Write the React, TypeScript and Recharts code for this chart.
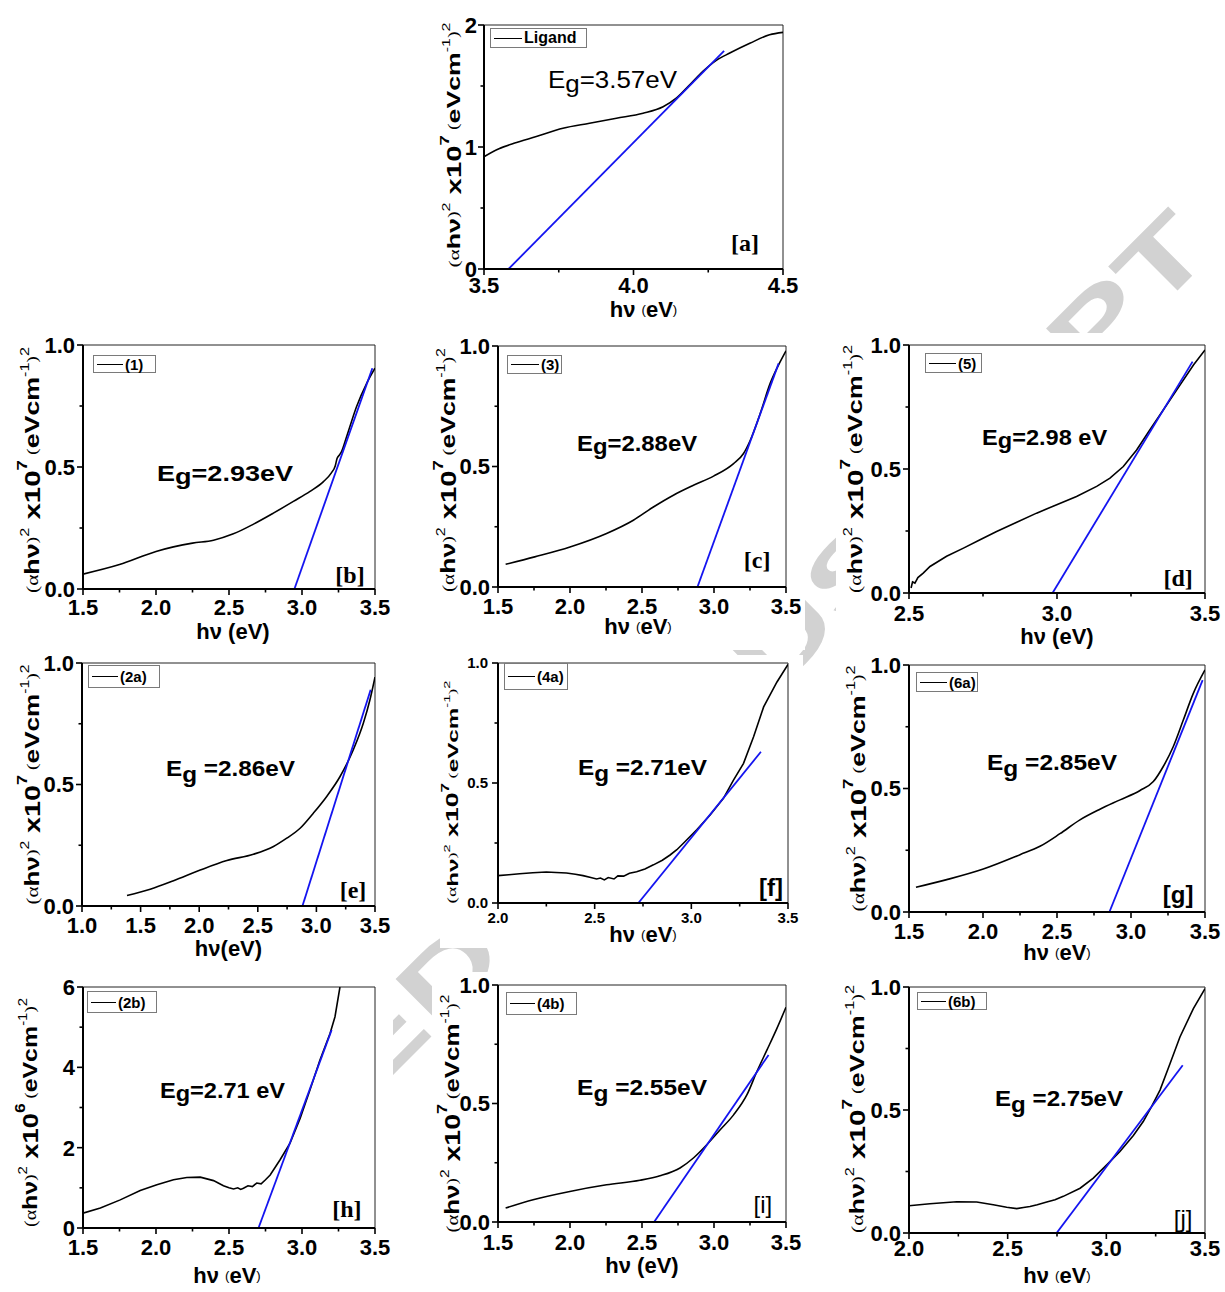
import React from 'react';
import { LineChart, Line, XAxis, YAxis, ReferenceLine, ReferenceDot, Legend } from 'recharts';

type P = [number, number];

// ---------- data ----------
const curveA: P[] = [[3.5,0.92],[3.55,0.985],[3.6,1.03],[3.675,1.086],[3.764,1.154],[3.853,1.195],[3.943,1.236],[4.032,1.277],[4.099,1.33],[4.143,1.4],[4.188,1.51],[4.232,1.62],[4.277,1.71],[4.322,1.77],[4.389,1.85],[4.455,1.92],[4.5,1.94]];
const tangentA: P[] = [[3.582,0],[4.303,1.787]];

const curveB: P[] = [[1.5,0.061],[1.75,0.1],[2.0,0.154],[2.25,0.188],[2.394,0.2],[2.53,0.226],[2.668,0.266],[2.804,0.311],[2.941,0.359],[3.055,0.4],[3.147,0.44],[3.2,0.475],[3.228,0.505],[3.24,0.535],[3.255,0.548],[3.27,0.562],[3.306,0.625],[3.374,0.748],[3.443,0.843],[3.5,0.905]];
const tangentB: P[] = [[2.948,0],[3.482,0.905]];

const curveC: P[] = [[1.553,0.094],[1.755,0.125],[2.0,0.166],[2.254,0.222],[2.44,0.277],[2.579,0.332],[2.718,0.381],[2.857,0.422],[2.997,0.46],[3.136,0.512],[3.205,0.554],[3.252,0.609],[3.321,0.72],[3.39,0.845],[3.46,0.935],[3.5,0.98]];
const tangentC: P[] = [[2.885,0],[3.449,0.928]];

const curveD: P[] = [[2.507,0.02],[2.512,0.045],[2.52,0.04],[2.53,0.062],[2.548,0.08],[2.571,0.107],[2.627,0.148],[2.684,0.181],[2.74,0.215],[2.796,0.248],[2.864,0.285],[2.931,0.322],[2.999,0.356],[3.066,0.389],[3.134,0.43],[3.179,0.463],[3.224,0.51],[3.269,0.577],[3.314,0.658],[3.359,0.738],[3.416,0.839],[3.461,0.919],[3.5,0.98]];
const tangentD: P[] = [[2.985,0],[3.458,0.933]];

const curveE: P[] = [[1.384,0.043],[1.582,0.069],[1.781,0.104],[2.009,0.148],[2.236,0.187],[2.463,0.213],[2.634,0.245],[2.747,0.279],[2.861,0.32],[2.974,0.382],[3.088,0.451],[3.202,0.533],[3.315,0.643],[3.401,0.753],[3.457,0.849],[3.5,0.942]];
const tangentE: P[] = [[2.881,0],[3.463,0.89]];

const curveF: P[] = [[2.0,0.114],[2.056,0.118],[2.112,0.122],[2.18,0.126],[2.25,0.129],[2.3,0.127],[2.354,0.125],[2.4,0.12],[2.44,0.114],[2.48,0.106],[2.51,0.1],[2.53,0.104],[2.55,0.096],[2.57,0.106],[2.6,0.1],[2.62,0.113],[2.65,0.112],[2.68,0.124],[2.717,0.13],[2.76,0.142],[2.804,0.159],[2.85,0.178],[2.89,0.2],[2.925,0.222],[2.959,0.249],[3.028,0.305],[3.097,0.367],[3.166,0.436],[3.218,0.512],[3.27,0.582],[3.322,0.693],[3.374,0.817],[3.443,0.921],[3.5,0.994]];
const tangentF: P[] = [[2.726,0],[3.36,0.63]];

const curveG: P[] = [[1.547,0.1],[1.755,0.131],[2.002,0.174],[2.25,0.232],[2.385,0.266],[2.52,0.317],[2.655,0.373],[2.79,0.416],[2.926,0.454],[3.061,0.492],[3.151,0.528],[3.218,0.589],[3.286,0.67],[3.354,0.778],[3.421,0.885],[3.5,0.98]];
const tangentG: P[] = [[2.854,0],[3.484,0.939]];

const curveH: P[] = [[1.5,0.37],[1.619,0.5],[1.755,0.7],[1.892,0.935],[2.006,1.076],[2.12,1.2],[2.211,1.258],[2.303,1.267],[2.394,1.18],[2.462,1.05],[2.5,1.0],[2.531,0.97],[2.56,1.0],[2.58,0.96],[2.599,0.99],[2.63,1.05],[2.66,1.03],[2.69,1.12],[2.72,1.1],[2.75,1.2],[2.782,1.32],[2.85,1.7],[2.918,2.11],[2.987,2.73],[3.055,3.44],[3.123,4.18],[3.192,4.84],[3.226,5.26],[3.26,6.0]];
const tangentH: P[] = [[2.702,0],[3.203,4.93]];

const curveI: P[] = [[1.553,0.059],[1.744,0.094],[1.999,0.129],[2.254,0.157],[2.486,0.176],[2.625,0.195],[2.764,0.228],[2.857,0.27],[2.95,0.326],[3.043,0.389],[3.136,0.452],[3.229,0.537],[3.298,0.635],[3.368,0.726],[3.437,0.817],[3.5,0.906]];
const tangentI: P[] = [[2.584,0],[3.379,0.705]];

const curveJ: P[] = [[2.0,0.111],[2.106,0.119],[2.242,0.127],[2.343,0.126],[2.427,0.115],[2.495,0.105],[2.546,0.099],[2.58,0.104],[2.613,0.108],[2.65,0.115],[2.698,0.126],[2.74,0.135],[2.782,0.149],[2.867,0.182],[2.934,0.223],[3.002,0.277],[3.069,0.331],[3.137,0.396],[3.187,0.453],[3.229,0.514],[3.272,0.581],[3.323,0.689],[3.373,0.797],[3.441,0.912],[3.5,0.993]];
const tangentJ: P[] = [[2.748,0],[3.387,0.682]];

const legendNames = ['Ligand', '(1)', '(3)', '(5)', '(2a)', '(4a)', '(6a)', '(2b)', '(4b)', '(6b)'];
const gapTexts = ['=3.57eV', '=2.93eV', '=2.88eV', '=2.98 eV', ' =2.86eV', ' =2.71eV', ' =2.85eV', '=2.71 eV', ' =2.55eV', ' =2.75eV'];
const tagTexts = ['[a]', '[b]', '[c]', '[d]', '[e]', '[f]', '[g]', '[h]', '[i]', '[j]'];

const ticksX15: number[] = [1.5, 2.0, 2.5, 3.0, 3.5];
const minorX15: number[] = [1.75, 2.25, 2.75, 3.25];
const ticksX10: number[] = [1.0, 1.5, 2.0, 2.5, 3.0, 3.5];
const minorX10: number[] = [1.25, 1.75, 2.25, 2.75, 3.25];
const ticksX20: number[] = [2.0, 2.5, 3.0, 3.5];
const minorX20: number[] = [2.25, 2.75, 3.25];
const ticksX25: number[] = [2.5, 3.0, 3.5];
const minorX25: number[] = [2.75, 3.25];
const ticksXa: number[] = [3.5, 4.0, 4.5];
const minorXa: number[] = [3.75, 4.25];
const ticksY1: number[] = [0, 0.5, 1.0];
const minorY1: number[] = [0.25, 0.75];
const ticksYa: number[] = [0, 1, 2];
const minorYa: number[] = [0.5, 1.5];
const ticksYh: number[] = [0, 2, 4, 6];
const minorYh: number[] = [1, 3, 5];

// ---------- layout / style ----------
const SANS = "Arial, 'Liberation Sans', sans-serif";
const SERIF = "'Times New Roman', 'Liberation Serif', serif";
const YW = 10;
const XH = 10;

interface Panel {
  curve: P[]; tangent: P[]; idx: number;
  egPos: P; egLen: number; egBold: boolean; egSize: number; egSub: number;
  tagPos: P; tagFont: string; tagBold: boolean;
  xDomain: P; yDomain: P;
  xMajor: number[]; xMinor: number[]; yMajor: number[]; yMinor: number[]; yDec: number;
  box: [number, number, number, number];
  plot: [number, number, number, number];
  tickFont: number; xTickDy: number; yTickGap: number;
  yt: { dx: number; dy: number; len: number; size: number; exp: string };
  xt: { dx: number; dy: number; small: boolean; nospace?: boolean; size: number };
  lg: [number, number, number, number]; lgLine: number; lgFont: number;
  smooth: boolean;
}

const panels: Panel[] = [
  { curve: curveA, tangent: tangentA, idx: 0, egPos: [3.714, 1.549], egLen: 129, egBold: false, egSize: 23, egSub: 4,
    tagPos: [4.373, 0.213], tagFont: SERIF, tagBold: true, xDomain: [3.5, 4.5], yDomain: [0, 2],
    xMajor: ticksXa, xMinor: minorXa, yMajor: ticksYa, yMinor: minorYa, yDec: 0,
    box: [432, 5, 380, 323], plot: [484, 25, 783, 269], tickFont: 22, xTickDy: 24, yTickGap: 7,
    yt: { dx: -31, dy: -2, len: 245, size: 19, exp: '7' }, xt: { dx: 10, dy: 40, small: true, size: 22 },
    lg: [490, 28, 97, 20], lgLine: 28, lgFont: 16, smooth: true },
  { curve: curveB, tangent: tangentB, idx: 1, egPos: [2.007, 0.475], egLen: 136, egBold: true, egSize: 22, egSub: 3,
    tagPos: [3.329, 0.057], tagFont: SERIF, tagBold: true, xDomain: [1.5, 3.5], yDomain: [0, 1],
    xMajor: ticksX15, xMinor: minorX15, yMajor: ticksY1, yMinor: minorY1, yDec: 1,
    box: [0, 333, 410, 317], plot: [83, 345, 375, 589], tickFont: 22, xTickDy: 26, yTickGap: 8,
    yt: { dx: -51, dy: 3, len: 246, size: 20, exp: '7' }, xt: { dx: 4, dy: 42, small: false, size: 22 },
    lg: [93, 355, 63, 18], lgLine: 26, lgFont: 15, smooth: true },
  { curve: curveC, tangent: tangentC, idx: 2, egPos: [2.049, 0.598], egLen: 120, egBold: true, egSize: 22, egSub: 3,
    tagPos: [3.299, 0.112], tagFont: SERIF, tagBold: true, xDomain: [1.5, 3.5], yDomain: [0, 1],
    xMajor: ticksX15, xMinor: minorX15, yMajor: ticksY1, yMinor: minorY1, yDec: 1,
    box: [425, 333, 380, 317], plot: [498, 346, 786, 587], tickFont: 22, xTickDy: 27, yTickGap: 8,
    yt: { dx: -50, dy: 3.5, len: 244, size: 20, exp: '7' }, xt: { dx: -4, dy: 39, small: true, size: 22 },
    lg: [507, 355, 55, 19], lgLine: 28, lgFont: 15, smooth: true },
  { curve: curveD, tangent: tangentD, idx: 3, egPos: [2.747, 0.629], egLen: 125, egBold: true, egSize: 22, egSub: 3,
    tagPos: [3.409, 0.06], tagFont: SERIF, tagBold: true, xDomain: [2.5, 3.5], yDomain: [0, 1],
    xMajor: ticksX25, xMinor: minorX25, yMajor: ticksY1, yMinor: minorY1, yDec: 1,
    box: [836, 333, 389, 322], plot: [909, 345, 1205, 593], tickFont: 22, xTickDy: 28, yTickGap: 8,
    yt: { dx: -54, dy: 0, len: 248, size: 20, exp: '7' }, xt: { dx: 0, dy: 43, small: false, size: 22 },
    lg: [925, 353, 57, 20], lgLine: 27, lgFont: 15, smooth: false },
  { curve: curveE, tangent: tangentE, idx: 4, egPos: [1.717, 0.568], egLen: 129, egBold: true, egSize: 22, egSub: 6,
    tagPos: [3.312, 0.066], tagFont: SERIF, tagBold: true, xDomain: [1.0, 3.5], yDomain: [0, 1],
    xMajor: ticksX10, xMinor: minorX10, yMajor: ticksY1, yMinor: minorY1, yDec: 1,
    box: [0, 652, 405, 316], plot: [82, 663, 375, 906], tickFont: 22, xTickDy: 27, yTickGap: 8,
    yt: { dx: -50, dy: 0, len: 240, size: 20, exp: '7' }, xt: { dx: 0, dy: 42, small: false, nospace: true, size: 22 },
    lg: [88, 665, 72, 23], lgLine: 26, lgFont: 15, smooth: true },
  { curve: curveF, tangent: tangentF, idx: 5, egPos: [2.414, 0.567], egLen: 129, egBold: true, egSize: 22, egSub: 6,
    tagPos: [3.412, 0.063], tagFont: SANS, tagBold: true, xDomain: [2.0, 3.5], yDomain: [0, 1],
    xMajor: ticksX20, xMinor: minorX20, yMajor: ticksY1, yMinor: minorY1, yDec: 1,
    box: [440, 655, 363, 293], plot: [498, 663, 788, 903], tickFont: 15, xTickDy: 20, yTickGap: 10,
    yt: { dx: -46, dy: 9, len: 223, size: 15, exp: '7' }, xt: { dx: 0, dy: 31, small: true, size: 22 },
    lg: [504, 663, 64, 27], lgLine: 27, lgFont: 15, smooth: false },
  { curve: curveG, tangent: tangentG, idx: 6, egPos: [2.027, 0.607], egLen: 130, egBold: true, egSize: 22, egSub: 6,
    tagPos: [3.318, 0.069], tagFont: SANS, tagBold: true, xDomain: [1.5, 3.5], yDomain: [0, 1],
    xMajor: ticksX15, xMinor: minorX15, yMajor: ticksY1, yMinor: minorY1, yDec: 1,
    box: [836, 650, 389, 318], plot: [909, 665, 1205, 912], tickFont: 22, xTickDy: 27, yTickGap: 8,
    yt: { dx: -51, dy: 0, len: 246, size: 20, exp: '7' }, xt: { dx: 0, dy: 40, small: true, size: 22 },
    lg: [916, 672, 62, 20], lgLine: 27, lgFont: 15, smooth: true },
  { curve: curveH, tangent: tangentH, idx: 7, egPos: [2.027, 3.436], egLen: 125, egBold: true, egSize: 22, egSub: 3,
    tagPos: [3.308, 0.473], tagFont: SERIF, tagBold: true, xDomain: [1.5, 3.5], yDomain: [0, 6],
    xMajor: ticksX15, xMinor: minorX15, yMajor: ticksYh, yMinor: minorYh, yDec: 0,
    box: [0, 972, 393, 320], plot: [83, 987, 375, 1228], tickFont: 22, xTickDy: 27, yTickGap: 8,
    yt: { dx: -53, dy: 5, len: 229, size: 20, exp: '6' }, xt: { dx: -2, dy: 47, small: true, size: 22 },
    lg: [87, 991, 70, 22], lgLine: 25, lgFont: 15, smooth: false },
  { curve: curveI, tangent: tangentI, idx: 8, egPos: [2.049, 0.57], egLen: 130, egBold: true, egSize: 22, egSub: 6,
    tagPos: [3.34, 0.072], tagFont: SANS, tagBold: false, xDomain: [1.5, 3.5], yDomain: [0, 1],
    xMajor: ticksX15, xMinor: minorX15, yMajor: ticksY1, yMinor: minorY1, yDec: 1,
    box: [432, 972, 385, 320], plot: [498, 985, 786, 1222], tickFont: 22, xTickDy: 28, yTickGap: 8,
    yt: { dx: -46, dy: 10, len: 238, size: 20, exp: '7' }, xt: { dx: 0, dy: 43, small: false, size: 22 },
    lg: [506, 992, 71, 23], lgLine: 25, lgFont: 15, smooth: true },
  { curve: curveJ, tangent: tangentJ, idx: 9, egPos: [2.436, 0.549], egLen: 128, egBold: true, egSize: 22, egSub: 6,
    tagPos: [3.389, 0.057], tagFont: SANS, tagBold: false, xDomain: [2.0, 3.5], yDomain: [0, 1],
    xMajor: ticksX20, xMinor: minorX20, yMajor: ticksY1, yMinor: minorY1, yDec: 1,
    box: [836, 972, 389, 320], plot: [909, 987, 1205, 1233], tickFont: 22, xTickDy: 23, yTickGap: 8,
    yt: { dx: -52, dy: -1, len: 248, size: 20, exp: '7' }, xt: { dx: 0, dy: 42, small: true, size: 22 },
    lg: [917, 992, 70, 18], lgLine: 25, lgFont: 15, smooth: false },
];

const isIn = (arr: number[], v: number) => arr.some((m) => Math.abs(m - v) < 1e-6);

function makeXTick(c: Panel) {
  return (props: any) => {
    const { x, y, payload } = props;
    const v = payload.value as number;
    const major = isIn(c.xMajor, v);
    return (
      <g>
        <line x1={x} x2={x} y1={y} y2={y + (major ? 6 : 3.5)} stroke="#000" strokeWidth={1.6} />
        {major && (
          <text x={x} y={y + c.xTickDy} textAnchor="middle" fontFamily={SANS} fontWeight="bold" fontSize={c.tickFont} fill="#000">
            {v.toFixed(1)}
          </text>
        )}
      </g>
    );
  };
}

function makeYTick(c: Panel) {
  return (props: any) => {
    const { x, y, payload } = props;
    const v = payload.value as number;
    const major = isIn(c.yMajor, v);
    return (
      <g>
        <line x1={x} x2={x - (major ? 6 : 3.5)} y1={y} y2={y} stroke="#000" strokeWidth={1.6} />
        {major && (
          <text x={x - c.yTickGap} y={y + c.tickFont * 0.36} textAnchor="end" fontFamily={SANS} fontWeight="bold" fontSize={c.tickFont} fill="#000">
            {v.toFixed(c.yDec)}
          </text>
        )}
      </g>
    );
  };
}

function makeYTitle(c: Panel) {
  return (props: any) => {
    const vb = props.viewBox || {};
    const plotLeft = (vb.x ?? 0) + (vb.width ?? 0);
    const cx = plotLeft + c.yt.dx;
    const cy = (vb.y ?? 0) + (vb.height ?? 0) / 2 + c.yt.dy;
    const s = c.yt.size;
    return (
      <text transform={`translate(${cx},${cy}) rotate(-90)`} textAnchor="middle" dominantBaseline="central"
        textLength={c.yt.len} lengthAdjust="spacingAndGlyphs" fontFamily={SANS} fontWeight="bold" fontSize={s} fill="#000">
        <tspan fontFamily={SERIF} fontWeight="normal" fontSize={s * 0.8}>(α</tspan>
        <tspan>hν</tspan>
        <tspan fontFamily={SERIF} fontWeight="normal" fontSize={s * 0.75}>)</tspan>
        <tspan fontSize={s * 0.6} fontWeight="normal" dy={-s * 0.35}>2</tspan>
        <tspan fontSize={s * 1.1} dy={s * 0.35}> x10</tspan>
        <tspan fontSize={s * 0.7} dy={-s * 0.5}>{c.yt.exp}</tspan>
        <tspan fontFamily={SERIF} fontWeight="normal" fontSize={s * 0.75} dy={s * 0.5}> (</tspan>
        <tspan>eVcm</tspan>
        <tspan fontSize={s * 0.6} fontWeight="normal" dy={-s * 0.35}>-1</tspan>
        <tspan fontFamily={SERIF} fontWeight="normal" fontSize={s * 0.75} dy={s * 0.35}>)</tspan>
        <tspan fontSize={s * 0.6} fontWeight="normal" dy={-s * 0.35}>2</tspan>
      </text>
    );
  };
}

function makeXTitle(c: Panel) {
  return (props: any) => {
    const vb = props.viewBox || {};
    const cx = (vb.x ?? 0) + (vb.width ?? 0) / 2 + c.xt.dx;
    const cy = (vb.y ?? 0) + c.xt.dy;
    const s = c.xt.size;
    const ps = c.xt.small ? s * 0.6 : s;
    return (
      <text x={cx} y={cy} textAnchor="middle" dominantBaseline="central" fontFamily={SANS} fontWeight="bold" fontSize={s} fill="#000">
        {c.xt.nospace ? 'hν' : 'hν '}
        <tspan fontSize={ps} fontWeight={c.xt.small ? 'normal' : 'bold'}>(</tspan>
        <tspan>eV</tspan>
        <tspan fontSize={ps} fontWeight={c.xt.small ? 'normal' : 'bold'}>)</tspan>
      </text>
    );
  };
}

function makeEg(c: Panel) {
  return (props: any) => {
    const vb = props.viewBox || {};
    const x = (vb.x ?? 0) + (vb.width ?? 0) / 2;
    const y = (vb.y ?? 0) + (vb.height ?? 0) / 2;
    const fs = c.egSize;
    return (
      <text x={x} y={y + fs * 0.36} fontFamily={SANS} fontWeight={c.egBold ? 'bold' : 'normal'} fontSize={fs} fill="#000"
        textLength={c.egLen} lengthAdjust="spacingAndGlyphs">
        E<tspan dy={c.egSub}>g</tspan><tspan dy={-c.egSub}>{gapTexts[c.idx]}</tspan>
      </text>
    );
  };
}

function makeTag(c: Panel) {
  return (props: any) => {
    const vb = props.viewBox || {};
    const x = (vb.x ?? 0) + (vb.width ?? 0) / 2;
    const y = (vb.y ?? 0) + (vb.height ?? 0) / 2;
    return (
      <text x={x} y={y} textAnchor="middle" dominantBaseline="central" fontFamily={c.tagFont}
        fontWeight={c.tagBold ? 'bold' : 'normal'} fontSize={24} fill="#000">
        {tagTexts[c.idx]}
      </text>
    );
  };
}

function LegendBox({ c, label }: { c: Panel; label: string }) {
  const [, , w, h] = c.lg;
  return (
    <div style={{ width: w, height: h, boxSizing: 'border-box', border: '1px solid #7a7a7a', background: '#fff',
      display: 'flex', alignItems: 'center', paddingLeft: 3, fontFamily: SANS, fontWeight: 'bold', fontSize: c.lgFont,
      lineHeight: 1, color: '#000', whiteSpace: 'nowrap' }}>
      <span style={{ display: 'inline-block', width: c.lgLine, borderTop: '1.6px solid #000', marginRight: 2 }} />
      <span>{label}</span>
    </div>
  );
}

function PanelChart({ c }: { c: Panel }) {
  const [bl, bt, bw, bh] = c.box;
  const [pl, pt, pr, pb] = c.plot;
  const margin = { top: pt - bt, left: pl - bl - YW, right: bl + bw - pr, bottom: bt + bh - pb - XH };
  const curve = c.curve.map(([x, y]) => ({ x, y }));
  const tangent = c.tangent.map(([x, y]) => ({ x, y }));
  const xTicks = [...c.xMajor, ...c.xMinor].sort((a, b) => a - b);
  const yTicks = [...c.yMajor, ...c.yMinor].sort((a, b) => a - b);
  return (
    <div style={{ position: 'absolute', left: bl, top: bt, width: bw, height: bh, background: '#fff' }}>
      <LineChart width={bw} height={bh} margin={margin}>
        <XAxis type="number" dataKey="x" domain={c.xDomain} allowDataOverflow ticks={xTicks} interval={0}
          tickLine={false} tickSize={0} tickMargin={0} height={XH} axisLine={{ stroke: '#000', strokeWidth: 2 }}
          tick={makeXTick(c)} label={{ content: makeXTitle(c) } as any} />
        <YAxis type="number" domain={c.yDomain} allowDataOverflow ticks={yTicks} interval={0}
          tickLine={false} tickSize={0} tickMargin={0} width={YW} axisLine={{ stroke: '#000', strokeWidth: 2 }}
          tick={makeYTick(c)} label={{ content: makeYTitle(c) } as any} />
        <ReferenceLine y={c.yDomain[1]} stroke="#222" strokeWidth={1} ifOverflow="visible" />
        <ReferenceLine x={c.xDomain[1]} stroke="#222" strokeWidth={1} ifOverflow="visible" />
        <Line data={curve} dataKey="y" name={legendNames[c.idx]} type={c.smooth ? 'monotone' : 'linear'} stroke="#000"
          strokeWidth={1.6} dot={false} activeDot={false} isAnimationActive={false} />
        <Line data={tangent} dataKey="y" name="fit" legendType="none" type="linear" stroke="#1414f0"
          strokeWidth={1.8} dot={false} activeDot={false} isAnimationActive={false} />
        <ReferenceDot x={c.egPos[0]} y={c.egPos[1]} r={0} fill="none" stroke="none" ifOverflow="visible" label={makeEg(c) as any} />
        <ReferenceDot x={c.tagPos[0]} y={c.tagPos[1]} r={0} fill="none" stroke="none" ifOverflow="visible" label={makeTag(c) as any} />
        <Legend layout="horizontal" verticalAlign="middle" align="center"
          wrapperStyle={{ left: c.lg[0] - bl, top: c.lg[1] - bt, width: 'auto', height: 'auto' }}
          content={(p: any) => <LegendBox c={c} label={(p.payload && p.payload[0] && p.payload[0].value) || legendNames[c.idx]} />} />
      </LineChart>
    </div>
  );
}

export default function App() {
  return (
    <div style={{ position: 'absolute', left: 0, top: 0, width: 1225, height: 1292, background: '#fff', overflow: 'hidden' }}>
      <svg width={1225} height={1292} style={{ position: 'absolute', left: 0, top: 0 }}>
        <text transform="translate(1216,252) rotate(-45) scale(1.5,1)" textAnchor="end" fontFamily={SANS}
          fontWeight="bold" fontSize={96} fill="#d2d2d2">ACCEPTED MANUSCRIPT</text>
      </svg>
      {panels.map((c) => (
        <PanelChart key={c.idx} c={c} />
      ))}
    </div>
  );
}
